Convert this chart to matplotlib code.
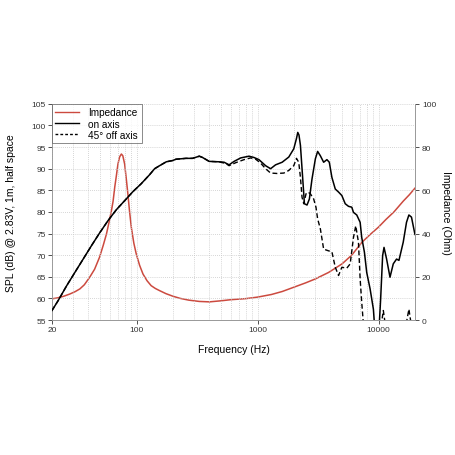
import matplotlib
matplotlib.use("Agg")
import matplotlib.pyplot as plt
from matplotlib.ticker import FixedLocator, NullFormatter, LogLocator
from matplotlib.lines import Line2D

plt.rcParams['font.family'] = ['Liberation Sans', 'DejaVu Sans']

# Impedance (Ohm)
imp_f = [20, 22.5, 25, 28, 31, 34, 37, 41, 45, 49.4, 53, 56.4, 59, 62, 64, 66, 68, 70.2, 72.5, 74.9,
         77, 79.7, 82, 84.8, 87.5, 90.5, 95, 99.4, 106, 113, 122, 132, 143, 155, 175, 200, 230, 270,
         330, 400, 500, 600, 800, 1000, 1300, 1600, 2000, 2500, 3000, 3860, 5000, 6000, 7300, 8500,
         10000, 11500, 13400, 16000, 18000, 20000]
imp_z = [9.8, 10.3, 11.0, 12.0, 13.1, 14.4, 16.3, 19.8, 23.5, 29.0, 34.5, 39.8, 44.8, 50.6, 55.0, 61.4, 66.5, 72.2, 75.5, 76.8,
         76.0, 72.2, 66.0, 58.3, 50.3, 42.9, 35.5, 30.6, 25.3, 21.3, 18.2, 15.9, 14.6, 13.6, 12.2, 11.0, 10.0, 9.2,
         8.6, 8.4, 8.9, 9.4, 9.9, 10.6, 11.8, 13.2, 15.2, 17.2, 19.0, 22.0, 26.0, 30.0, 36.0, 39.5,
         43.0, 46.5, 50.0, 55.0, 58.0, 61.0]

# On-axis SPL (dB)
on_f = [20, 22.5, 26.4, 30.9, 36.2, 42.4, 49.4, 58.1, 68, 79.7, 93.3, 109, 128, 141, 155, 176, 199,
        212, 256, 290, 330, 351, 398, 481, 529, 582, 640, 726, 850, 934, 1027, 1166, 1282, 1409, 1597,
        1812, 1992, 2098, 2150, 2200, 2262, 2364, 2440, 2564, 2682, 2818, 3006, 3138, 3304, 3518, 3744,
        3918, 4116, 4390, 4672, 4974, 5304, 5646, 6010, 6206, 6606, 7046, 7262, 7642, 7986, 8516, 9068,
        9470, 9966, 10410, 10810, 11100, 11660, 12436, 13238, 14092, 14748, 15996, 17026, 17818, 18718,
        19698, 20000]
on_db = [57.2, 59.5, 62.9, 66.0, 69.1, 72.2, 75.1, 78.0, 80.5, 82.6, 84.7, 86.5, 88.6, 90.0, 90.7, 91.6, 91.9,
         92.2, 92.4, 92.4, 92.9, 92.6, 91.7, 91.6, 91.5, 90.9, 91.7, 92.5, 92.9, 92.6, 92.1, 90.7, 90.0, 90.9, 91.5,
         92.7, 94.6, 97.0, 98.4, 97.8, 95.4, 87.6, 81.9, 81.6, 83.0, 87.6, 92.3, 94.0, 93.0, 91.5, 92.1,
         91.5, 88.0, 85.3, 84.6, 83.8, 81.9, 81.3, 81.1, 79.9, 79.3, 77.6, 74.1, 70.7, 66.0, 62.2, 57.5,
         50.0, 50.0, 59.9, 69.9, 71.8, 69.1, 64.9, 68.0, 69.1, 68.8, 73.0, 77.6, 79.3, 78.8,
         75.7, 74.8]

# 45 deg off-axis SPL (dB)
off_f = [20, 22.5, 26.4, 30.9, 36.2, 42.4, 49.4, 58.1, 68, 79.7, 93.3, 109, 128, 141, 155, 176, 199,
         212, 256, 290, 330, 351, 398, 481, 547, 582, 661, 773, 878, 965, 1061, 1166, 1282, 1452, 1649,
         1812, 1992, 2098, 2190, 2262, 2332, 2408, 2516, 2612, 2734, 2910, 3040, 3138, 3304, 3518, 3866,
         4116, 4390, 4672, 4974, 5468, 5830, 6206, 6482, 6822, 7046, 7262, 7500, 7800, 10400, 10608,
         10954, 11300, 11600, 16700, 17026, 17818, 18500, 18900]
off_db = [57.2, 59.5, 62.9, 66.0, 69.1, 72.2, 75.1, 78.0, 80.5, 82.6, 84.7, 86.5, 88.6, 90.0, 90.7, 91.6, 91.9,
          92.2, 92.4, 92.4, 92.9, 92.6, 91.7, 91.6, 91.2, 90.7, 91.4, 92.1, 92.5, 92.2, 91.3, 90.0, 89.0, 88.9, 89.0,
          89.6, 90.7, 92.4, 91.5, 88.0, 83.4, 81.9, 84.2, 84.6, 84.2, 83.0, 81.1, 78.4, 76.1, 71.4, 71.0,
          70.8, 67.2, 65.3, 67.2, 67.0, 68.0, 74.1, 76.8, 73.0, 64.5, 59.1, 54.0, 50.0, 50.0, 54.5,
          57.2, 54.5, 50.0, 50.0, 54.5, 57.5, 54.5, 50.0]

x_ticks = [20, 100, 1000, 10000]
x_labels = ['20', '100', '1000', '10000']
spl_ticks = [55, 60, 65, 70, 75, 80, 85, 90, 95, 100, 105]
imp_ticks = [0, 20, 40, 60, 80, 100]

red = '#cc4a3f'

fig = plt.figure(figsize=(4.56, 4.56), dpi=100)
ax = fig.add_axes([0.114, 0.296, 0.796, 0.474])
ax2 = ax.twinx()

ax.set_xscale('log')
ax.set_xlim(20, 20000)
ax.set_ylim(55, 105)
ax2.set_ylim(0, 100)

ax.xaxis.set_major_locator(FixedLocator(x_ticks))
ax.set_xticklabels(x_labels)
ax.xaxis.set_minor_locator(LogLocator(base=10, subs=range(2, 10), numticks=20))
ax.xaxis.set_minor_formatter(NullFormatter())
ax.set_yticks(spl_ticks)
ax2.set_yticks(imp_ticks)

ax.grid(True, which='both', axis='x', color='#c8c8c8', linestyle=(0, (1, 1.5)), linewidth=0.6)
ax.grid(True, which='major', axis='y', color='#c8c8c8', linestyle=(0, (1, 1.5)), linewidth=0.6)
ax.tick_params(axis='x', which='minor', length=0)
ax.tick_params(axis='both', which='major', labelsize=6, length=3, width=0.6, colors='#333333', pad=1.5)
ax2.tick_params(axis='y', labelsize=6, length=3, width=0.6, colors='#333333', pad=2)

for a in (ax, ax2):
    a.spines['top'].set_visible(False)
    for s in ('left', 'right', 'bottom'):
        a.spines[s].set_color('#999999')
        a.spines[s].set_linewidth(0.6)

ax.plot(on_f, on_db, color='black', linewidth=1.1, zorder=4)
ax.plot(off_f, off_db, color='black', linewidth=1.0, linestyle=(0, (3.5, 2)), zorder=3)
ax2.plot(imp_f, imp_z, color=red, linewidth=1.1, zorder=2)

ax.set_zorder(ax2.get_zorder() + 1)
ax.patch.set_visible(False)

handles = [Line2D([], [], color=red, linewidth=1.0),
           Line2D([], [], color='black', linewidth=1.0),
           Line2D([], [], color='black', linewidth=1.0, linestyle=(0, (2, 1.5)))]
leg = ax.legend(handles, ['Impedance', 'on axis', '45° off axis'], loc='upper left',
                bbox_to_anchor=(0.0, 1.0), fontsize=7.2, frameon=True, fancybox=False,
                handlelength=2.4, handletextpad=0.9, borderpad=0.35, labelspacing=0.12,
                borderaxespad=0.0)
leg.get_frame().set_edgecolor('#555555')
leg.get_frame().set_linewidth(0.6)

ax.set_xlabel('Frequency (Hz)', fontsize=7.5)
ax.xaxis.set_label_coords(0.5, -0.111)
ax.set_ylabel('SPL (dB) @ 2.83V, 1m, half space', fontsize=7.5)
ax.yaxis.set_label_coords(-0.1, 0.5)
ax2.set_ylabel('Impedance (Ohm)', fontsize=7.5, rotation=270, va='center')
ax2.yaxis.set_label_coords(1.085, 0.5)

fig.savefig('out.png', dpi=100)
